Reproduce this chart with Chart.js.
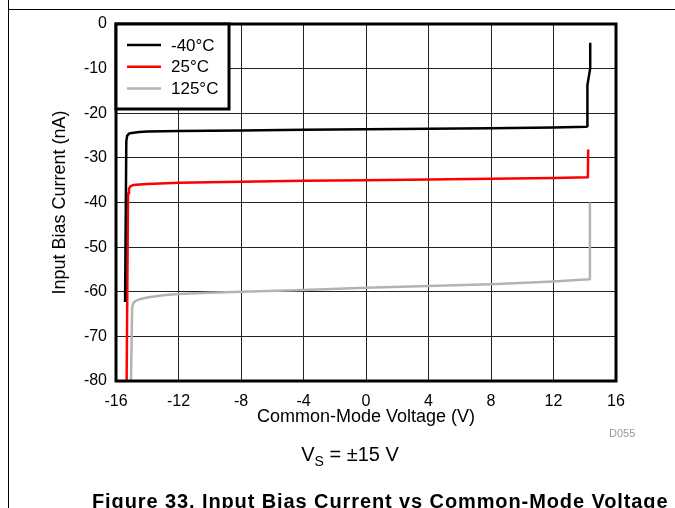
<!DOCTYPE html>
<html>
<head>
<meta charset="utf-8">
<script src="https://cdn.jsdelivr.net/npm/chart.js@4.4.1/dist/chart.umd.min.js"></script>
<style>
  html, body { margin: 0; padding: 0; background: #fff; }
  body { width: 675px; height: 508px; position: relative; overflow: hidden; font-family: "Liberation Sans", Arial, sans-serif; }
  #wrap { position: absolute; left: 0; top: 0; width: 675px; height: 508px; }
  .vline { position: absolute; left: 8px; top: 0; width: 1px; height: 508px; background: #000; }
  .hline { position: absolute; left: 8px; top: 9px; width: 667px; height: 1px; background: #000; }
  .vs { position: absolute; left: 0; width: 700px; top: 444px; font-size: 20px; line-height: 20px; text-align: center; color: #000; white-space: nowrap; }
  .vs span { font-size: 14px; position: relative; top: 5px; }
  .cap { position: absolute; left: 92px; top: 491px; font-size: 20px; line-height: 20px; font-weight: bold; letter-spacing: 0.9px; white-space: nowrap; color: #000; }
  .code { position: absolute; left: 609px; top: 428px; font-size: 11px; line-height: 11px; color: #999; }
</style>
</head>
<body>
<div id="wrap"><canvas id="c"></canvas></div>
<div class="vline"></div>
<div class="hline"></div>
<div class="code">D055</div>
<div class="vs">V<span>S</span> = ±15 V</div>
<div class="cap">Figure 33. Input Bias Current vs Common-Mode Voltage</div>
<script>
// Series labels
const seriesLabels = ['-40°C', '25°C', '125°C'];
const seriesColors = ['#000000', '#ff0000', '#b3b3b3'];

// -40°C : common-mode voltage (V) and input bias current (nA)
const vM40 = [-15.42, -15.34, -15.28, -15.18, -15.0, -14.5, -14, -12, -8, -4, 0, 4, 8, 12, 14.12, 14.17, 14.17, 14.35, 14.35];
const iM40 = [-62.3, -26.2, -25.0, -24.6, -24.4, -24.2, -24.1, -24.0, -23.85, -23.7, -23.6, -23.45, -23.35, -23.2, -23.0, -22.9, -13.7, -9.9, -4.2];

// 25°C
const v25 = [-15.32, -15.23, -15.17, -15.08, -14.9, -14.5, -14, -12, -8, -4, 0, 4, 8, 12, 14.2, 14.22];
const i25 = [-80, -38.0, -36.9, -36.4, -36.1, -35.95, -35.85, -35.6, -35.35, -35.15, -35.0, -34.85, -34.7, -34.5, -34.35, -28.1];

// 125°C
const v125 = [-15.04, -14.97, -14.9, -14.78, -14.5, -14, -13, -12, -10, -8, -4, 0, 4, 8, 12, 14.3, 14.33];
const i125 = [-80, -63.6, -62.6, -62.1, -61.7, -61.3, -60.8, -60.5, -60.2, -60.0, -59.6, -59.1, -58.7, -58.3, -57.7, -57.2, -40];

// Axes
const xMin = -16, xMax = 16, xStep = 4;
const yMin = -80, yMax = 0, yStep = 10;
const xTitle = 'Common-Mode Voltage (V)';
const yTitle = 'Input Bias Current (nA)';

function pts(xs, ys) { return xs.map((x, i) => ({ x: x, y: ys[i] })); }

const seriesX = [vM40, v25, v125];
const seriesY = [iM40, i25, i125];

const datasets = seriesLabels.map((lab, k) => ({
  label: lab,
  data: pts(seriesX[k], seriesY[k]),
  borderColor: seriesColors[k],
  backgroundColor: seriesColors[k],
  borderWidth: 2.5,
  pointRadius: 0,
  tension: 0,
  fill: false,
  borderJoinStyle: 'round',
  borderCapStyle: 'butt'
}));

const FONT = '"Liberation Sans", Arial, sans-serif';

const framePlugin = {
  id: 'frameAndLegend',
  afterDatasetsDraw(chart) {
    const { ctx, chartArea: a } = chart;
    ctx.save();
    ctx.lineWidth = 3;
    ctx.strokeStyle = '#000';
    ctx.strokeRect(a.left, a.top, a.right - a.left, a.bottom - a.top);
    // legend box
    const bx = a.left, by = a.top, bw = 113, bh = 85;
    ctx.fillStyle = '#fff';
    ctx.fillRect(bx, by, bw, bh);
    ctx.strokeRect(bx, by, bw, bh);
    chart.data.datasets.forEach((ds, i) => {
      const y = by + 21 + i * 21.7;
      ctx.strokeStyle = ds.borderColor;
      ctx.lineWidth = 2.5;
      ctx.beginPath();
      ctx.moveTo(bx + 11, y);
      ctx.lineTo(bx + 45, y);
      ctx.stroke();
      ctx.fillStyle = '#000';
      ctx.font = '17px ' + FONT;
      ctx.textBaseline = 'middle';
      ctx.textAlign = 'left';
      ctx.fillText(ds.label, bx + 55, y + 1);
    });
    ctx.restore();
  }
};

new Chart(document.getElementById('c'), {
  type: 'line',
  data: { datasets: datasets },
  options: {
    responsive: true,
    maintainAspectRatio: false,
    animation: false,
    devicePixelRatio: 1,
    layout: { padding: { left: 0, top: 24, right: 59, bottom: 67 } },
    plugins: { legend: { display: false }, tooltip: { enabled: false } },
    scales: {
      x: {
        type: 'linear',
        min: xMin, max: xMax,
        afterFit(s) { s.height = 60; },
        ticks: { stepSize: xStep, color: '#000', font: { family: FONT, size: 16 }, padding: 11, maxRotation: 0, autoSkip: false },
        grid: { color: '#222', lineWidth: 1, drawTicks: false },
        border: { display: false },
        title: { display: true, text: xTitle, color: '#000', font: { family: FONT, size: 18 }, padding: { top: 0, bottom: 13 } }
      },
      y: {
        type: 'linear',
        min: yMin, max: yMax,
        afterFit(s) { s.width = 116; },
        ticks: { stepSize: yStep, color: '#000', font: { family: FONT, size: 16 }, padding: 9 },
        grid: { color: '#222', lineWidth: 1, drawTicks: false },
        border: { display: false },
        title: { display: true, text: yTitle, color: '#000', font: { family: FONT, size: 18 }, padding: { top: 49, bottom: 0 } }
      }
    }
  },
  plugins: [framePlugin]
});
</script>
</body>
</html>
